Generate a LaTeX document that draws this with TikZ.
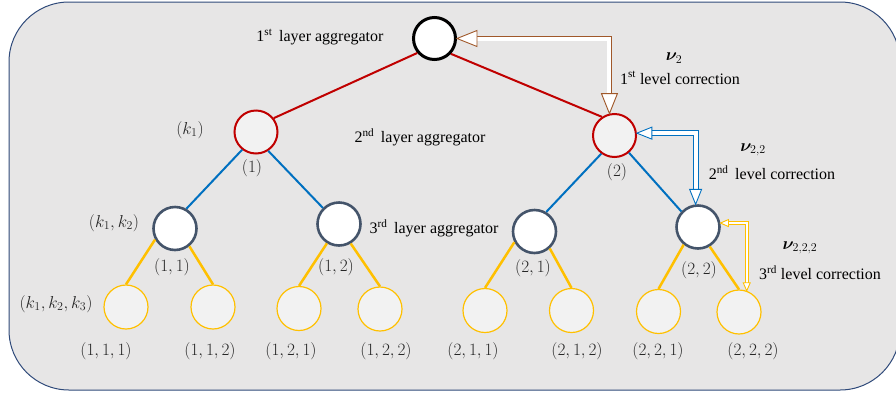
\documentclass[tikz,border=0pt]{standalone}
\usepackage{amsmath,bm}
\usepackage[no-math]{fontspec}
\setmainfont{Liberation Serif}
\usetikzlibrary{calc}
\definecolor{bgc}{HTML}{E7E6E6}
\definecolor{framec}{HTML}{2F4A7A}
\definecolor{redc}{HTML}{C00000}
\definecolor{bluec}{HTML}{0070C0}
\definecolor{yelc}{HTML}{FFC000}
\definecolor{slatec}{HTML}{44546A}
\definecolor{brownc}{HTML}{A0582A}
\definecolor{leafc}{HTML}{F2F2F2}
\newcommand{\elbowarrow}[6]{%
  \draw[draw=#1, line width=0.9pt, double=white, double distance=#6]
    ($(#2)+(#4,0)$) -| ($(#3)+(0,-#4)$);
  \draw[draw=#1, fill=white, line width=0.9pt, line join=miter]
    (#2) -- ++(#4,-#5/2) -- ++(0,#5) -- cycle;
  \draw[draw=#1, fill=white, line width=0.9pt, line join=miter]
    (#3) -- ++(-#5/2,-#4) -- ++(#5,0) -- cycle;
}
\tikzset{
  txt/.style={inner sep=0pt, font=\fontsize{16}{19}\selectfont},
  lab/.style={inner sep=0pt, text=black!85, font=\fontsize{17.5}{21}\selectfont},
  topnode/.style={circle, draw=black, line width=3pt, fill=white, minimum size=42pt, inner sep=0pt},
  midnode/.style={circle, draw=redc, line width=2pt, fill=leafc, minimum size=43pt, inner sep=0pt},
  lownode/.style={circle, draw=slatec, line width=2.6pt, fill=white, minimum size=43pt, inner sep=0pt},
  leafnode/.style={circle, draw=yelc, line width=1.2pt, fill=leafc, minimum size=44pt, inner sep=0pt},
  rededge/.style={draw=redc, line width=2pt},
  blueedge/.style={draw=bluec, line width=2pt},
  yeledge/.style={draw=yelc, line width=2.5pt},
}
\begin{document}
\begin{tikzpicture}[x=1pt,y=-1pt]
\useasboundingbox (0,0) rectangle (896,397);
\clip (0,0) rectangle (896,397);
\draw[fill=bgc, draw=framec, line width=1pt, rounded corners=60pt] (9,2) rectangle (900,390);

% nodes
\node[topnode] (top) at (434.5,38.5) {};
\node[midnode] (n1) at (256,132) {};
\node[midnode] (n2) at (614.5,135.5) {};
\node[lownode] (n11) at (175,228.5) {};
\node[lownode] (n12) at (339,224) {};
\node[lownode] (n21) at (534.5,231.5) {};
\node[lownode] (n22) at (698,227) {};
\node[leafnode] (l111) at (126,307) {};
\node[leafnode] (l112) at (213,307) {};
\node[leafnode] (l121) at (299,308.5) {};
\node[leafnode] (l122) at (380,309) {};
\node[leafnode] (l211) at (485,310.5) {};
\node[leafnode] (l212) at (571.5,310.5) {};
\node[leafnode] (l221) at (658.5,311.5) {};
\node[leafnode] (l222) at (739,312) {};

% edges
\draw[rededge] (top.220) -- (n1.38);
\draw[rededge] (top.-43) -- (n2.124);
\draw[blueedge] (n1.232) -- (n11.60);
\draw[blueedge] (n1.-57) -- (n12.135);
\draw[blueedge] (n2.234) -- (n21.59);
\draw[blueedge] (n2.-50) -- (n22.137);
\draw[yeledge] (n11.209) -- (l111.north);
\draw[yeledge] (n11.-51) -- (l112.north);
\draw[yeledge] (n12.238) -- (l121.north);
\draw[yeledge] (n12.-59) -- (l122.north);
\draw[yeledge] (n21.208) -- (l211.north);
\draw[yeledge] (n21.-48) -- (l212.north);
\draw[yeledge] (n22.231) -- (l221.north);
\draw[yeledge] (n22.-59) -- (l222.north);

% correction arrows
\elbowarrow{brownc}{top.0}{n2.103}{20}{16}{4pt}
\elbowarrow{bluec}{n2.6}{n22.96}{15}{12}{4pt}
\elbowarrow{yelc}{n22.10}{l222.70}{8}{7}{2pt}

% node labels
\node[lab] (t1) at (252,168) {$(1)$};
\node[lab] (t2) at (617,172) {$(2)$};
\node[lab] (t11) at (172,267) {$(1,1)$};
\node[lab] (t12) at (336,267) {$(1,2)$};
\node[lab] (t21) at (533,268) {$(2,1)$};
\node[lab] (t22) at (699,270) {$(2,2)$};
\node[lab] (k1) at (190,130) {$(k_1)$};
\node[lab] (k12) at (114,223) {$(k_1,k_2)$};
\node[lab] (k123) at (56,304) {$(k_1,k_2,k_3)$};
\node[lab] (t111) at (106,351) {$(1,1,1)$};
\node[lab] (t112) at (210,351) {$(1,1,2)$};
\node[lab] (t121) at (291,351) {$(1,2,1)$};
\node[lab] (t122) at (386,351) {$(1,2,2)$};
\node[lab] (t211) at (473,351) {$(2,1,1)$};
\node[lab] (t212) at (577,351) {$(2,1,2)$};
\node[lab] (t221) at (658,351) {$(2,2,1)$};
\node[lab] (t222) at (753,351) {$(2,2,2)$};

% texts
\node[txt] (a1) at (320,37) {1\textsuperscript{st}\, layer aggregator};
\node[txt] (a2) at (420,137) {2\textsuperscript{nd}\, layer aggregator};
\node[txt] (a3) at (434,228) {3\textsuperscript{rd}\, layer aggregator};
\node[lab, text=black] (nu1) at (674,58) {$\bm{\nu}_{2}$};
\node[txt] (c1) at (680,78) {1\textsuperscript{st} level correction};
\node[lab, text=black] (nu2) at (753,150) {$\bm{\nu}_{2,2}$};
\node[txt] (c2) at (772,173) {2\textsuperscript{nd}\, level correction};
\node[lab, text=black] (nu3) at (800,248) {$\bm{\nu}_{2,2,2}$};
\node[txt] (c3) at (820,273) {3\textsuperscript{rd} level correction};
\end{tikzpicture}
\end{document}
